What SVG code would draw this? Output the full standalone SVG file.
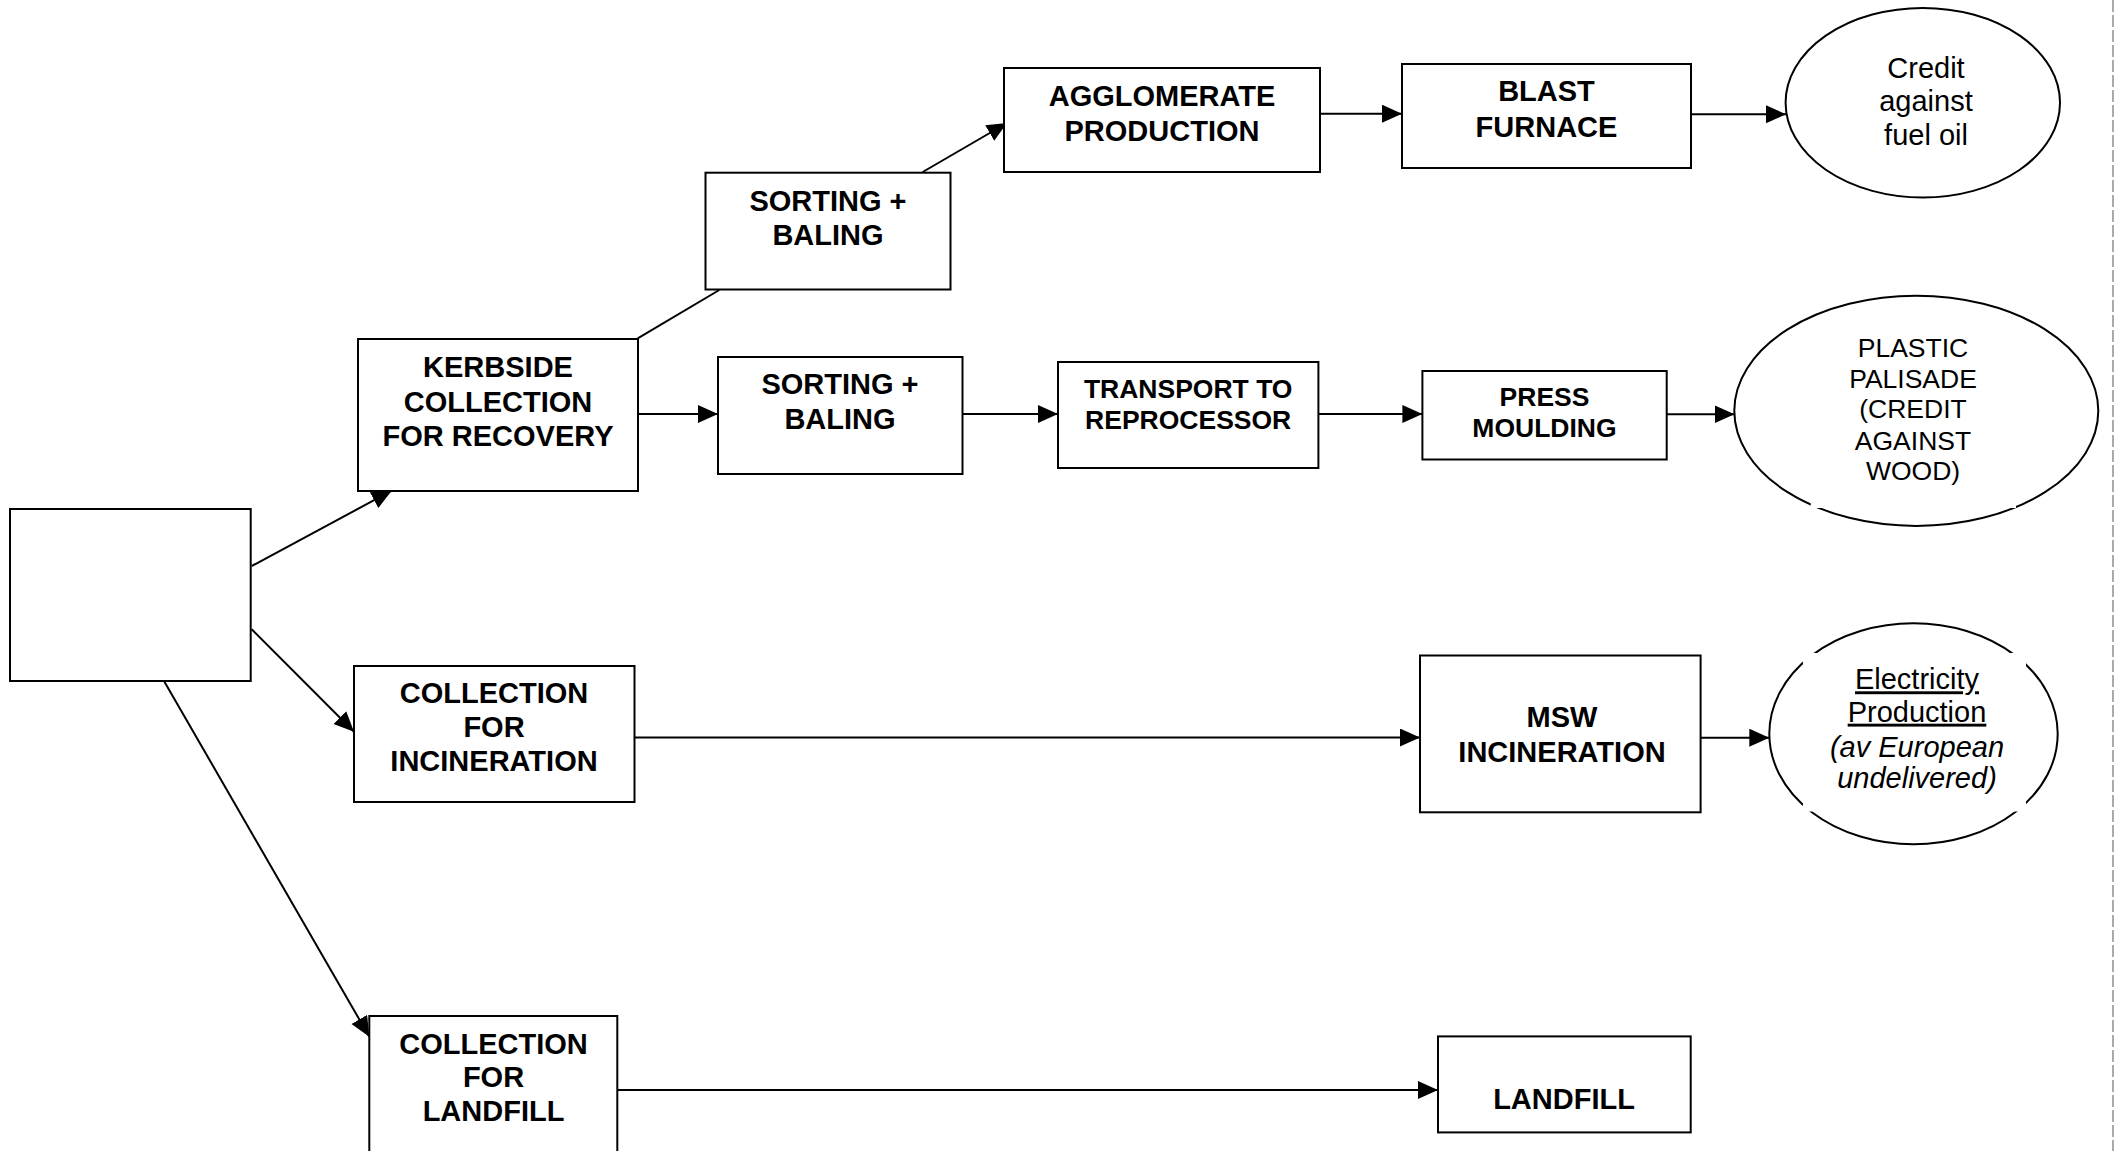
<svg xmlns="http://www.w3.org/2000/svg" width="2116" height="1151" viewBox="0 0 2116 1151">
<style>
.box{fill:#fff;stroke:#000;stroke-width:2}
.ell{fill:#fff;stroke:#000;stroke-width:2}
.cn{fill:none;stroke:#000;stroke-width:2}
.b{font-family:"Liberation Sans",Arial,sans-serif;font-weight:bold;font-size:29px;text-anchor:middle;fill:#000}
.bs{font-size:26.5px}
.r{font-family:"Liberation Sans",Arial,sans-serif;font-size:29px;text-anchor:middle;fill:#000}
.rs{font-size:26.5px}
.i{font-style:italic}
.u{text-decoration:underline}
</style>
<defs>
<marker id="ah" markerUnits="userSpaceOnUse" markerWidth="22" markerHeight="20" refX="20" refY="9" orient="auto">
<path d="M0,0 L20,9 L0,18 Z" fill="#000"/>
</marker>
</defs>
<rect width="2116" height="1151" fill="#fff"/>
<line x1="2113" y1="0" x2="2113" y2="1151" stroke="#aaa" stroke-width="2" stroke-dasharray="12 3"/>

<g id="connectors">
<line class="cn" x1="251.7" y1="566" x2="391.7" y2="490.7" marker-end="url(#ah)"/>
<line class="cn" x1="251.7" y1="629.3" x2="354" y2="731.7" marker-end="url(#ah)"/>
<line class="cn" x1="164" y1="681" x2="369.3" y2="1036.7" marker-end="url(#ah)"/>
<line class="cn" x1="637.7" y1="338.3" x2="719.3" y2="290"/>
<line class="cn" x1="922.7" y1="172" x2="1007" y2="123" marker-end="url(#ah)"/>
<line class="cn" x1="1320" y1="113.7" x2="1402" y2="113.7" marker-end="url(#ah)"/>
<line class="cn" x1="1691" y1="114.3" x2="1786" y2="114.3" marker-end="url(#ah)"/>
<line class="cn" x1="638" y1="414" x2="718" y2="414" marker-end="url(#ah)"/>
<line class="cn" x1="962.5" y1="414" x2="1058" y2="414" marker-end="url(#ah)"/>
<line class="cn" x1="1318.4" y1="414" x2="1422.4" y2="414" marker-end="url(#ah)"/>
<line class="cn" x1="1666.7" y1="414.3" x2="1734.5" y2="414.3" marker-end="url(#ah)"/>
<line class="cn" x1="634.5" y1="737.5" x2="1420" y2="737.5" marker-end="url(#ah)"/>
<line class="cn" x1="1700.6" y1="737.7" x2="1769.3" y2="737.7" marker-end="url(#ah)"/>
<line class="cn" x1="617.4" y1="1090" x2="1438" y2="1090" marker-end="url(#ah)"/>
</g>

<g id="source">
<rect class="box" x="10" y="509" width="240.7" height="172"/>
</g>

<g id="kerbside">
<rect class="box" x="358" y="339" width="280" height="152"/>
<text class="b" x="498" y="377">KERBSIDE</text>
<text class="b" x="498" y="411.5">COLLECTION</text>
<text class="b" x="498" y="446">FOR RECOVERY</text>
</g>

<g id="sorting1">
<rect class="box" x="705.5" y="172.7" width="245" height="116.8"/>
<text class="b" x="828" y="210.7">SORTING +</text>
<text class="b" x="828" y="245">BALING</text>
</g>

<g id="agglomerate">
<rect class="box" x="1004" y="68" width="316" height="104"/>
<text class="b" x="1162" y="105.7">AGGLOMERATE</text>
<text class="b" x="1162" y="140.7">PRODUCTION</text>
</g>

<g id="blast">
<rect class="box" x="1402" y="64" width="289" height="104"/>
<text class="b" x="1546.5" y="101">BLAST</text>
<text class="b" x="1546.5" y="136.7">FURNACE</text>
</g>

<g id="credit">
<ellipse class="ell" cx="1922.8" cy="102.7" rx="137.2" ry="94.8"/>
<text class="r" x="1926" y="78">Credit</text>
<text class="r" x="1926" y="111">against</text>
<text class="r" x="1926" y="144.6">fuel oil</text>
</g>

<g id="sorting2">
<rect class="box" x="718" y="357" width="244.5" height="117"/>
<text class="b" x="840" y="394.3">SORTING +</text>
<text class="b" x="840" y="429.3">BALING</text>
</g>

<g id="transport">
<rect class="box" x="1058" y="362" width="260.4" height="106"/>
<text class="b bs" x="1188.2" y="397.7">TRANSPORT TO</text>
<text class="b bs" x="1188.2" y="428.7">REPROCESSOR</text>
</g>

<g id="press">
<rect class="box" x="1422.4" y="371" width="244.3" height="88.5"/>
<text class="b bs" x="1544.5" y="406">PRESS</text>
<text class="b bs" x="1544.5" y="436.7">MOULDING</text>
</g>

<g id="palisade">
<ellipse class="ell" cx="1916.3" cy="410.8" rx="182" ry="115.1"/>
<rect x="1810.7" y="330" width="205.3" height="178" fill="#fff"/>
<text class="r rs" x="1913" y="357">PLASTIC</text>
<text class="r rs" x="1913" y="388">PALISADE</text>
<text class="r rs" x="1913" y="418.4">(CREDIT</text>
<text class="r rs" x="1913" y="450">AGAINST</text>
<text class="r rs" x="1913" y="479.5">WOOD)</text>
</g>

<g id="coll-incineration">
<rect class="box" x="354" y="666" width="280.5" height="136"/>
<text class="b" x="494" y="703">COLLECTION</text>
<text class="b" x="494" y="736.8">FOR</text>
<text class="b" x="494" y="770.7">INCINERATION</text>
</g>

<g id="msw">
<rect class="box" x="1420" y="655.5" width="280.6" height="156.8"/>
<text class="b" x="1562" y="727.2">MSW</text>
<text class="b" x="1562" y="761.6">INCINERATION</text>
</g>

<g id="electricity">
<ellipse class="ell" cx="1913.5" cy="733.8" rx="144.2" ry="110.5"/>
<rect x="1803" y="653" width="223" height="158.5" fill="#fff"/>
<text class="r u" x="1917" y="689.3">Electricity</text>
<text class="r u" x="1917" y="721.7">Production</text>
<text class="r i" x="1917" y="756.7">(av European</text>
<text class="r i" x="1917" y="788.3">undelivered)</text>
</g>

<g id="coll-landfill">
<rect class="box" x="369.3" y="1016" width="248" height="160"/>
<text class="b" x="493.5" y="1054">COLLECTION</text>
<text class="b" x="493.5" y="1087.3">FOR</text>
<text class="b" x="493.5" y="1121">LANDFILL</text>
</g>

<g id="landfill">
<rect class="box" x="1438" y="1036.4" width="252.7" height="96"/>
<text class="b" x="1564" y="1108.5">LANDFILL</text>
</g>
</svg>
